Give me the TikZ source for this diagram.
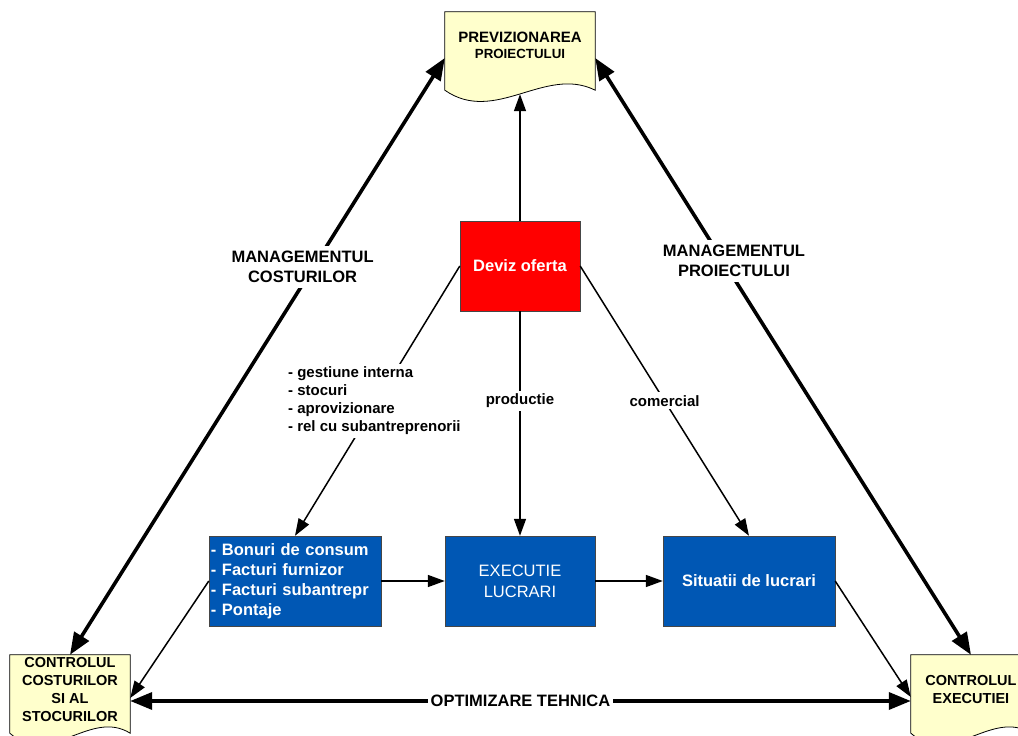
\documentclass[tikz,border=0pt]{standalone}
\usepackage{fontspec}
\setmainfont{Liberation Sans}
\usepackage{tikz}
\usetikzlibrary{arrows.meta}
\usetikzlibrary{calc}
\usetikzlibrary{backgrounds}
\definecolor{devizred}{RGB}{255 0 0}
\definecolor{boxblue}{RGB}{0 87 180}
\definecolor{docyellow}{RGB}{255 255 204}
\definecolor{boxedge}{RGB}{70 70 70}
\tikzstyle{doc} = [rectangle, minimum width=150pt, minimum height=78pt, inner sep=1pt, text centered, align=center, font=\fontsize{14.5}{18}\selectfont\bfseries]
\tikzstyle{redbox} = [rectangle, minimum width=120pt, minimum height=90pt, text centered, draw=boxedge, fill=devizred, text=white, font=\fontsize{16.5}{20}\selectfont\bfseries]
\tikzstyle{bluebox} = [rectangle, minimum width=172pt, minimum height=90pt, draw=boxedge, fill=boxblue, text=white, align=center, font=\fontsize{16.5}{20}\selectfont\bfseries]
\tikzstyle{arrow} = [line width=1.5pt, ->, >={Triangle[length=17pt, width=12pt]}]
\tikzstyle{bigarrow} = [line width=3.6pt, <->, >={Triangle[length=22pt, width=17pt]}]
\tikzstyle{tag} = [fill=white, inner sep=3pt, align=left, font=\fontsize{15}{18}\selectfont\bfseries]
\tikzstyle{bigtag} = [fill=white, inner sep=5pt, align=center, font=\fontsize{16.5}{20}\selectfont\bfseries]
\newcommand{\docoutline}[1]{\draw[fill=docyellow, line width=0.8pt] (#1.north west) -- (#1.north east) -- (#1.south east) .. controls ($(#1.south east)!1/3!(#1.south west)+(0,25)$) and ($(#1.south east)!2/3!(#1.south west)+(0,-35)$) .. (#1.south west) -- cycle;}

\begin{document}
\begin{tikzpicture}[x=1pt, y=1pt, node distance={225pt}]
        \useasboundingbox (-520,-470) rectangle (498,266);
        \node (deviz) [redbox] {Deviz oferta};
        \node (prev) [doc, above of=deviz, yshift=-10pt, text depth=12pt, font=\fontsize{15}{16}\selectfont\bfseries] {PREVIZIONAREA\\{\fontsize{13.3}{16}\selectfont PROIECTULUI}};
        \node (exec) [bluebox, below of=deviz, yshift=-90pt, minimum width=150pt, font=\fontsize{16.5}{21}\selectfont] {EXECUTIE\\LUCRARI};
        \node (bonuri) [bluebox, left of=exec, align=left, text width=168pt, inner xsep=2pt] {- Bonuri de consum\\- Facturi furnizor\\- Facturi subantrepr\\- Pontaje};
        \node (situatii) [bluebox, right of=exec, xshift=4pt] {Situatii de lucrari};
        \node (costuri) [doc, left of=bonuri, yshift=-113pt, minimum width=120pt, text depth=10pt] {CONTROLUL\\COSTURILOR\\SI AL\\STOCURILOR};
        \node (control) [doc, right of=situatii, xshift=-3pt, yshift=-113pt, minimum width=120pt, text depth=10pt] {CONTROLUL\\EXECUTIEI};
        \begin{scope}[on background layer]
            \docoutline{prev}
            \docoutline{costuri}
            \docoutline{control}
        \end{scope}
        \draw [arrow] (deviz) -- ([yshift=-4pt]prev.south);
        \draw [arrow] (deviz) -- node[tag, pos=0.4] {productie} (exec);
        \draw [arrow] (deviz.west) -- node[tag, xshift=-3pt] {- gestiune interna\\- stocuri\\- aprovizionare\\- rel cu subantreprenorii} (bonuri.north);
        \draw [arrow] (deviz.east) -- node[tag] {comercial} (situatii.north);
        \draw [arrow] (bonuri) -- (exec);
        \draw [arrow] (exec) -- (situatii);
        \draw [arrow] (bonuri.west) -- ([yshift=-4pt]costuri.east);
        \draw [arrow] (situatii.east) -- ([yshift=-3pt]control.west);
        \draw [bigarrow] ([yshift=-7pt]prev.west) -- node[bigtag, pos=0.35, xshift=-11pt] {MANAGEMENTUL\\COSTURILOR} (costuri.north);
        \draw [bigarrow] ([yshift=-7pt]prev.east) -- node[bigtag, pos=0.34, xshift=11pt] {MANAGEMENTUL\\PROIECTULUI} (control.north);
        \draw [bigarrow] ([yshift=-7pt]costuri.east) -- node[bigtag, inner sep=3pt] {OPTIMIZARE TEHNICA} ([yshift=-7pt]control.west);
    \end{tikzpicture}
\end{document}
